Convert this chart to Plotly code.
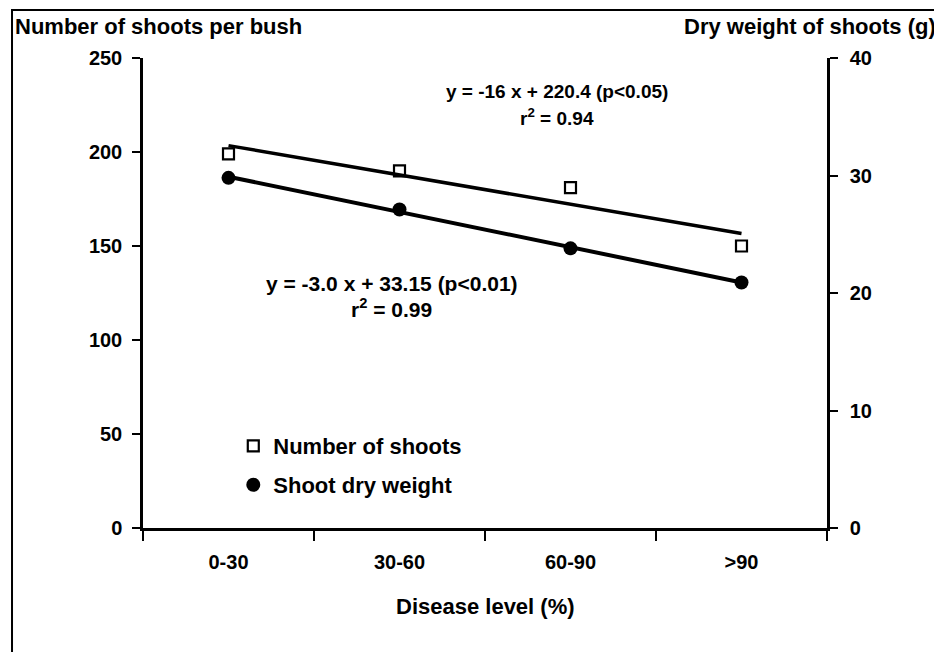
import numpy as np
import plotly.graph_objects as go

categories = ["0-30", "30-60", "60-90", ">90"]
shoots_per_bush = [199, 190, 181, 150]
shoot_dry_weight = [29.8, 27.1, 23.8, 20.9]
left_ticks = [0, 50, 100, 150, 200, 250]
right_ticks = [0, 10, 20, 30, 40]

FONT = "Liberation Sans, Arial, Helvetica, sans-serif"
xpos = np.arange(len(categories))
bounds = [i - 0.5 for i in range(len(categories) + 1)]

# regression lines fitted from the data
s1 = np.polyfit(xpos, shoots_per_bush, 1)
s2 = np.polyfit(xpos, shoot_dry_weight, 1)
fit1 = np.polyval(s1, xpos)
fit2 = np.polyval(s2, xpos)

fig = go.Figure()
fig.add_trace(go.Scatter(x=xpos, y=fit1, mode="lines", line=dict(color="black", width=3.5),
                         showlegend=False, hoverinfo="skip"))
fig.add_trace(go.Scatter(x=xpos, y=shoots_per_bush, mode="markers", name="Number of shoots",
                         marker=dict(symbol="square-open", size=11, color="black", line=dict(width=2.2, color="black")),
                         legend="legend"))
fig.add_trace(go.Scatter(x=xpos, y=fit2, mode="lines", line=dict(color="black", width=4),
                         showlegend=False, hoverinfo="skip", yaxis="y2"))
fig.add_trace(go.Scatter(x=xpos, y=shoot_dry_weight, mode="markers", name="Shoot dry weight",
                         marker=dict(symbol="circle", size=14, color="black"),
                         yaxis="y2", legend="legend2"))

tickfont = dict(family=FONT, size=20, color="black", weight="bold")
axis_common = dict(showgrid=False, zeroline=False, color="black", tickcolor="black",
                   tickwidth=2, tickfont=tickfont)

fig.update_layout(
    width=934, height=644,
    margin=dict(l=135, r=115, t=50, b=124),
    paper_bgcolor="white", plot_bgcolor="white",
    font=dict(family=FONT, color="black"),
    xaxis=dict(range=[-0.5, 3.5], tickmode="array", tickvals=list(xpos), ticktext=categories,
               ticks="", showline=True, linewidth=2.5, linecolor="black",
               minor=dict(tickmode="array", tickvals=bounds, ticks="outside", ticklen=10,
                          tickwidth=2, tickcolor="black"),
               ticklabelstandoff=14, **axis_common),
    xaxis2=dict(overlaying="x", anchor="y", range=[-0.5, 3.5], tickmode="array", tickvals=bounds,
                ticks="inside", ticklen=5, showticklabels=False, showline=False,
                side="bottom", **axis_common),
    yaxis=dict(range=[0, 250], tickmode="array", tickvals=left_ticks, ticks="outside", ticklen=8,
               showline=True, linewidth=2.5, linecolor="black", ticklabelstandoff=6, **axis_common),
    yaxis3=dict(overlaying="y", anchor="x", side="left", range=[0, 250], tickmode="array",
                tickvals=left_ticks, ticks="inside", ticklen=8, showticklabels=False,
                showline=False, **axis_common),
    yaxis2=dict(overlaying="y", side="right", anchor="x", range=[0, 40], tickmode="array",
                tickvals=right_ticks, ticks="outside", ticklen=8, showline=True, linewidth=2.5,
                linecolor="black", ticklabelstandoff=8, **axis_common),
    yaxis4=dict(overlaying="y", side="right", anchor="x", range=[0, 40], tickmode="array",
                tickvals=right_ticks, ticks="inside", ticklen=8, showticklabels=False,
                showline=False, **axis_common),
    legend=dict(x=0.132, y=0.1745, xanchor="left", yanchor="middle", bgcolor="rgba(0,0,0,0)",
                font=dict(family=FONT, size=22, color="black", weight="bold")),
    legend2=dict(x=0.132, y=0.0915, xanchor="left", yanchor="middle", bgcolor="rgba(0,0,0,0)",
                 font=dict(family=FONT, size=22, color="black", weight="bold")),
    showlegend=True,
)

ann_font = dict(family=FONT, color="black", weight="bold")
annotations = [
    dict(text="Number of shoots per bush", x=-0.190, y=1.066, xanchor="left", yanchor="middle",
         font=dict(size=22, **ann_font)),
    dict(text="Dry weight of shoots (g)", x=1.162, y=1.066, xanchor="right", yanchor="middle",
         font=dict(size=22, **ann_font)),
    dict(text="Disease level (%)", x=0.5, y=-0.168, xanchor="center", yanchor="middle",
         font=dict(size=22, **ann_font)),
    dict(text="y = -16 x + 220.4 (p<0.05)", x=0.605, y=0.928, xanchor="center", yanchor="middle",
         font=dict(size=19, **ann_font)),
    dict(text="r<sup>2</sup> = 0.94", x=0.605, y=0.874, xanchor="center", yanchor="middle",
         font=dict(size=19, **ann_font)),
    dict(text="y = -3.0 x + 33.15 (p<0.01)", x=0.364, y=0.521, xanchor="center", yanchor="middle",
         font=dict(size=21, **ann_font)),
    dict(text="r<sup>2</sup> = 0.99", x=0.364, y=0.468, xanchor="center", yanchor="middle",
         font=dict(size=21, **ann_font)),
]
for a in annotations:
    fig.add_annotation(xref="paper", yref="paper", showarrow=False, **a)

# outer frame of the figure
fig.add_shape(type="rect", xref="paper", yref="paper", x0=-0.1915, x1=1.165, y0=-0.35, y1=1.102,
              line=dict(color="black", width=2), layer="above")

fig.write_html("out.html")
